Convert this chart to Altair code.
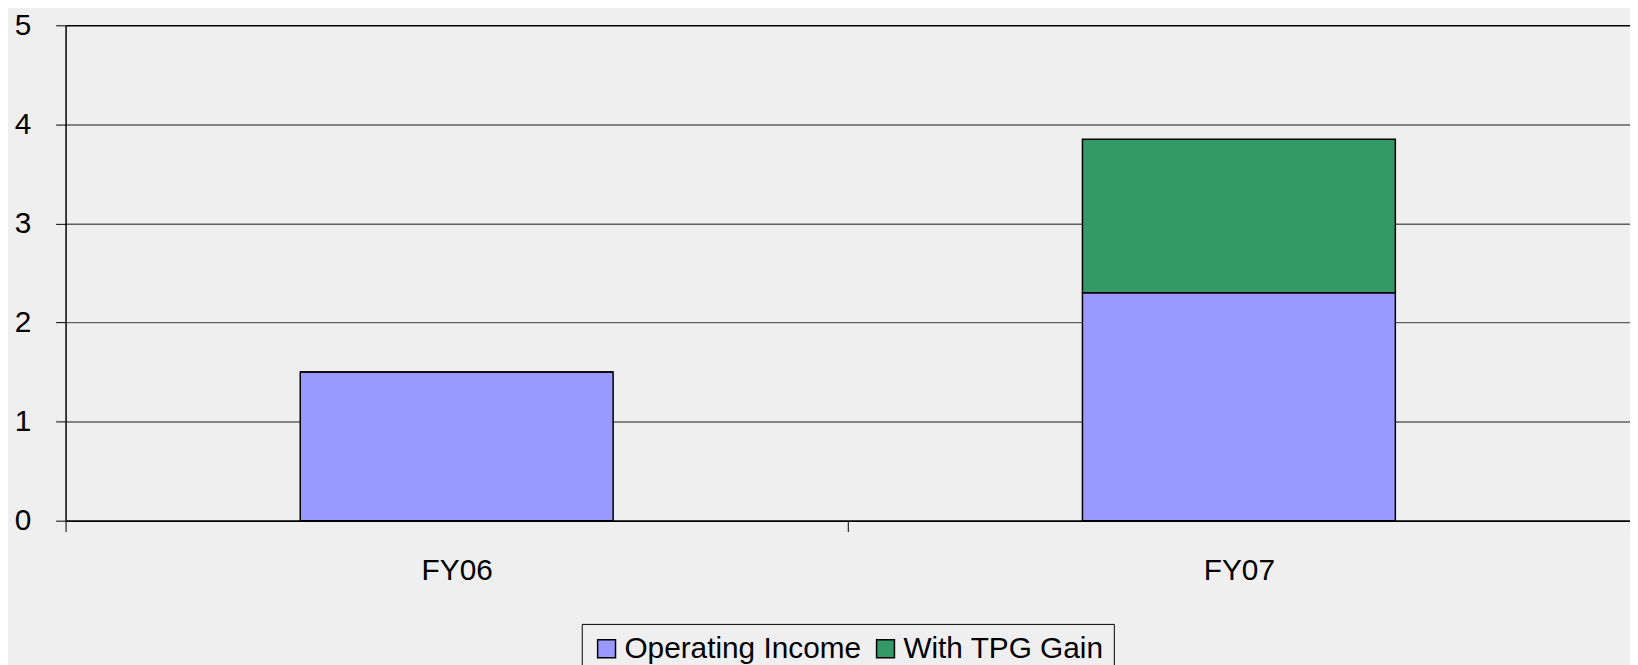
import altair as alt
import pandas as pd

categories = ["FY06", "FY07"]
series_names = ["Operating Income", "With TPG Gain"]
operating_income = [1.5, 2.3]
tpg_gain = [0.0, 1.55]
y_ticks = [0, 1, 2, 3, 4, 5]
colors = ["#9999FF", "#339966"]

rows = []
for i, c in enumerate(categories):
    rows.append({"cat": c, "series": series_names[0], "value": operating_income[i], "ord": 0})
    rows.append({"cat": c, "series": series_names[1], "value": tpg_gain[i], "ord": 1})
df = pd.DataFrame(rows)

FONT = "Liberation Sans"

chart = alt.Chart(df).mark_bar(
    width=alt.RelativeBandSize(0.4), stroke="black", strokeWidth=1.5
).encode(
    x=alt.X("cat:N", sort=categories, title=None,
            scale=alt.Scale(paddingInner=0, paddingOuter=0),
            axis=alt.Axis(labelAngle=0, tickBand="extent", tickSize=11, tickColor="black",
                          tickWidth=1, domain=True, domainColor="black", domainWidth=1.5,
                          labelFontSize=30, labelFont=FONT, labelColor="black",
                          labelPadding=24, grid=False)),
    y=alt.Y("value:Q", stack="zero", title=None,
            scale=alt.Scale(domain=[0, 5], nice=False),
            axis=alt.Axis(values=y_ticks, tickSize=10, tickColor="black", domainColor="black",
                          domainWidth=1.5, labelFontSize=30, labelFont=FONT, labelColor="black",
                          labelPadding=25, grid=True,
                          gridColor={"condition": {"test": "datum.value == 5 || datum.value == 0", "value": "black"}, "value": "#606060"},
                          gridWidth=1.5)),
    color=alt.Color("series:N", sort=series_names,
                    scale=alt.Scale(domain=series_names, range=colors),
                    legend=alt.Legend(orient="none", legendX=520, legendY=603, direction="horizontal",
                                      title=None, strokeColor="black", padding=10,
                                      symbolType="square", symbolSize=324, symbolStrokeColor="black",
                                      symbolStrokeWidth=1.5, symbolOpacity=1,
                                      labelFontSize=30, labelFont=FONT, labelColor="black",
                                      labelLimit=0, labelOffset=3, columnPadding=9)),
    order=alt.Order("ord:Q"),
).properties(
    width=1576, height=499,
    autosize=alt.AutoSizeParams(type="none"),
    padding={"left": 58, "top": 15, "right": 0, "bottom": 150},
).configure(background="#efefef").configure_view(stroke=None, fill="#efefef")

chart.save("out.html", embed_options={"renderer": "svg", "actions": False})
